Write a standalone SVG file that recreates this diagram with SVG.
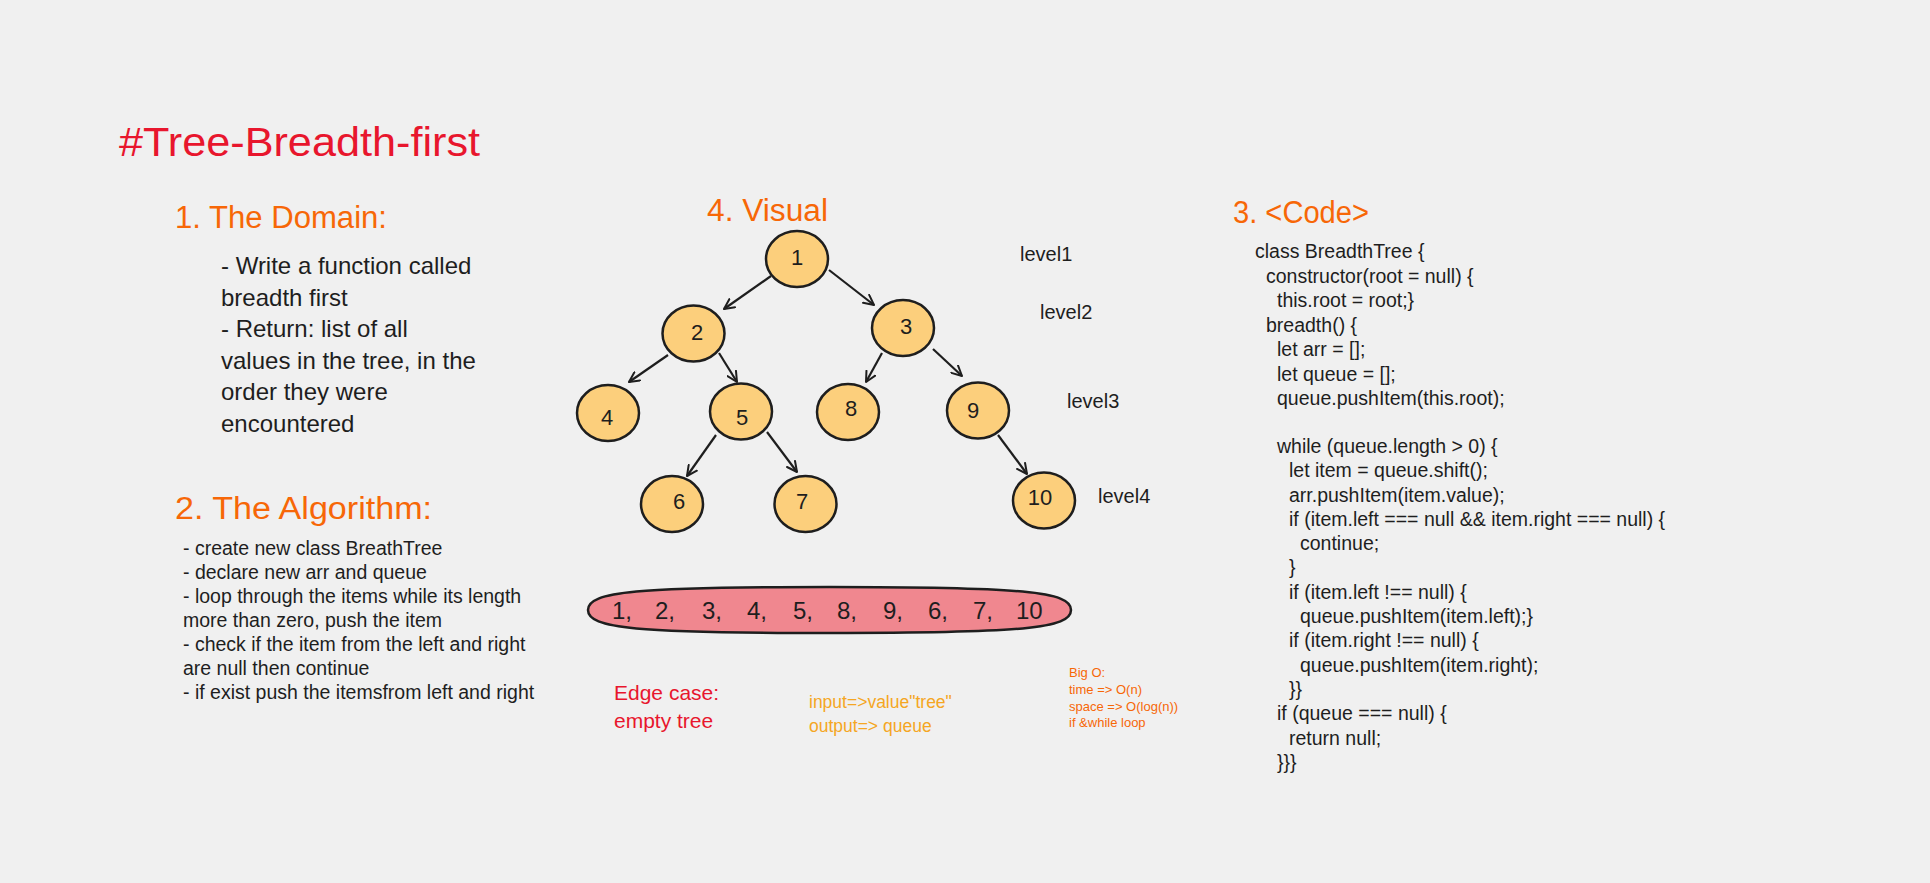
<svg xmlns="http://www.w3.org/2000/svg" width="1930" height="883" viewBox="0 0 1930 883">
<defs>
<style>
text{font-family:"Liberation Sans",Arial,sans-serif;fill:#1e1e1e}
.h{font-size:31px;fill:#f76707}
.title{font-size:40px;fill:#e8162d}
.dom{font-size:24px}
.alg{font-size:19.5px}
.code{font-size:19.5px}
.lvl{font-size:20px}
.nl{font-size:22px;text-anchor:middle}
.node{fill:#fccf7c;stroke:#1e1e1e;stroke-width:2.5}
.edge{stroke:#1e1e1e;stroke-width:2.2;fill:none;marker-end:url(#arr)}
.lst{font-size:24px}
.edgec{font-size:21px;fill:#e8162d}
.io{font-size:17.5px;fill:#f5a623}
.bigo{font-size:13px;fill:#f76707}
</style>
<marker id="arr" viewBox="0 0 12 12" refX="11" refY="6" markerWidth="12" markerHeight="12" markerUnits="userSpaceOnUse" orient="auto">
<path d="M1,1 L11,6 L1,11" fill="none" stroke="#1e1e1e" stroke-width="2" stroke-linecap="round" stroke-linejoin="round"/>
</marker>
</defs>
<rect width="1930" height="883" fill="#f0f0f0"/>

<g id="title"><text class="title" x="119" y="156" textLength="361" lengthAdjust="spacingAndGlyphs">#Tree-Breadth-first</text></g>

<g id="domain">
<text class="h" x="175" y="228" textLength="212" lengthAdjust="spacingAndGlyphs">1. The Domain:</text>
<text class="dom" x="221" y="274">- Write a function called</text>
<text class="dom" x="221" y="305.6">breadth first</text>
<text class="dom" x="221" y="337.2">- Return: list of all</text>
<text class="dom" x="221" y="368.8">values in the tree, in the</text>
<text class="dom" x="221" y="400.4">order they were</text>
<text class="dom" x="221" y="432">encountered</text>
</g>

<g id="algorithm">
<text class="h" x="175" y="519" textLength="257" lengthAdjust="spacingAndGlyphs">2. The Algorithm:</text>
<text class="alg" x="183" y="555">- create new class BreathTree</text>
<text class="alg" x="183" y="579">- declare new arr and queue</text>
<text class="alg" x="183" y="603">- loop through the items while its length</text>
<text class="alg" x="183" y="627">more than zero, push the item</text>
<text class="alg" x="183" y="651">- check if the item from the left and right</text>
<text class="alg" x="183" y="675">are null then continue</text>
<text class="alg" x="183" y="699">- if exist push the itemsfrom left and right</text>
</g>

<g id="visual-title"><text class="h" x="707" y="221" textLength="121" lengthAdjust="spacingAndGlyphs">4. Visual</text></g>

<g id="connectors">
<line class="edge" x1="771" y1="276" x2="724" y2="309"/>
<line class="edge" x1="829" y1="270" x2="874" y2="305"/>
<line class="edge" x1="668" y1="355" x2="629" y2="382"/>
<line class="edge" x1="719" y1="353" x2="737" y2="382"/>
<line class="edge" x1="882" y1="353" x2="866" y2="382"/>
<line class="edge" x1="933" y1="349" x2="962" y2="376"/>
<line class="edge" x1="716" y1="435" x2="687" y2="476"/>
<line class="edge" x1="767" y1="432" x2="797" y2="472"/>
<line class="edge" x1="998" y1="435" x2="1027" y2="474"/>
</g>

<g id="node-1"><ellipse class="node" cx="797" cy="259" rx="31" ry="28"/><text class="nl" x="797" y="265">1</text></g>
<g id="node-2"><ellipse class="node" cx="693.5" cy="333.5" rx="31" ry="28"/><text class="nl" x="697" y="340">2</text></g>
<g id="node-3"><ellipse class="node" cx="903" cy="328" rx="31" ry="28"/><text class="nl" x="906" y="334">3</text></g>
<g id="node-4"><ellipse class="node" cx="608" cy="413" rx="31" ry="28"/><text class="nl" x="607" y="425">4</text></g>
<g id="node-5"><ellipse class="node" cx="741" cy="411.5" rx="31" ry="28"/><text class="nl" x="742" y="425">5</text></g>
<g id="node-8"><ellipse class="node" cx="848" cy="412" rx="31" ry="28"/><text class="nl" x="851" y="416">8</text></g>
<g id="node-9"><ellipse class="node" cx="978" cy="410.5" rx="31" ry="28"/><text class="nl" x="973" y="418">9</text></g>
<g id="node-6"><ellipse class="node" cx="672" cy="504" rx="31" ry="28"/><text class="nl" x="679" y="509">6</text></g>
<g id="node-7"><ellipse class="node" cx="805.5" cy="504" rx="31" ry="28"/><text class="nl" x="802" y="509">7</text></g>
<g id="node-10"><ellipse class="node" cx="1044" cy="500.5" rx="31" ry="28"/><text class="nl" x="1040" y="505">10</text></g>

<g id="levels">
<text class="lvl" x="1020" y="261">level1</text>
<text class="lvl" x="1040" y="319">level2</text>
<text class="lvl" x="1067" y="408">level3</text>
<text class="lvl" x="1098" y="503">level4</text>
</g>

<g id="result">
<path d="M588,610 C588,591.6 636.3,587 829.5,587 C1022.7,587 1071,591.6 1071,610 C1071,628.4 1022.7,633 829.5,633 C636.3,633 588,628.4 588,610 Z" fill="#f0878f" stroke="#1e1e1e" stroke-width="2.5"/>
<text class="lst" y="619"><tspan x="612">1,</tspan><tspan x="655">2,</tspan><tspan x="702">3,</tspan><tspan x="747">4,</tspan><tspan x="793">5,</tspan><tspan x="837">8,</tspan><tspan x="883">9,</tspan><tspan x="928">6,</tspan><tspan x="973">7,</tspan><tspan x="1016">10</tspan></text>
</g>

<g id="edge-case">
<text class="edgec" x="614" y="700">Edge case:</text>
<text class="edgec" x="614" y="728">empty tree</text>
</g>

<g id="io">
<text class="io" x="809" y="708">input=&gt;value"tree"</text>
<text class="io" x="809" y="732">output=&gt; queue</text>
</g>

<g id="big-o">
<text class="bigo" x="1069" y="677">Big O:</text>
<text class="bigo" x="1069" y="694">time =&gt; O(n)</text>
<text class="bigo" x="1069" y="711">space =&gt; O(log(n))</text>
<text class="bigo" x="1069" y="727">if &amp;while loop</text>
</g>

<g id="code">
<text class="h" x="1233" y="223" textLength="136" lengthAdjust="spacingAndGlyphs">3. &lt;Code&gt;</text>
<text class="code" x="1255" y="258">class BreadthTree {</text>
<text class="code" x="1266" y="283">constructor(root = null) {</text>
<text class="code" x="1277" y="307">this.root = root;}</text>
<text class="code" x="1266" y="332">breadth() {</text>
<text class="code" x="1277" y="356">let arr = [];</text>
<text class="code" x="1277" y="381">let queue = [];</text>
<text class="code" x="1277" y="405">queue.pushItem(this.root);</text>
<text class="code" x="1277" y="453">while (queue.length &gt; 0) {</text>
<text class="code" x="1289" y="477">let item = queue.shift();</text>
<text class="code" x="1289" y="502">arr.pushItem(item.value);</text>
<text class="code" x="1289" y="526">if (item.left === null &amp;&amp; item.right === null) {</text>
<text class="code" x="1300" y="550">continue;</text>
<text class="code" x="1289" y="574">}</text>
<text class="code" x="1289" y="599">if (item.left !== null) {</text>
<text class="code" x="1300" y="623">queue.pushItem(item.left);}</text>
<text class="code" x="1289" y="647">if (item.right !== null) {</text>
<text class="code" x="1300" y="672">queue.pushItem(item.right);</text>
<text class="code" x="1289" y="696">}}</text>
<text class="code" x="1277" y="720">if (queue === null) {</text>
<text class="code" x="1289" y="745">return null;</text>
<text class="code" x="1277" y="769">}}}</text>
</g>
</svg>
